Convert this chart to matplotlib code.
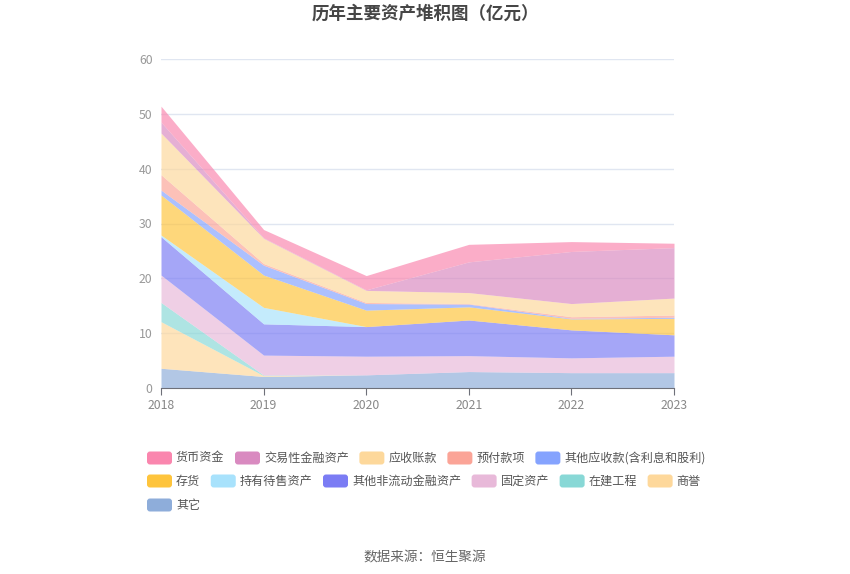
import matplotlib
matplotlib.use('Agg')
import matplotlib.pyplot as plt
import matplotlib.transforms as mtrans
from matplotlib.patches import FancyBboxPatch
import numpy as np

plt.rcParams['font.family'] = ['Noto Sans CJK SC', 'DejaVu Sans']

years = ['2018', '2019', '2020', '2021', '2022', '2023']

# legend order (top of stack first)
names = ['货币资金', '交易性金融资产', '应收账款', '预付款项', '其他应收款(含利息和股利)',
         '存货', '持有待售资产', '其他非流动金融资产', '固定资产', '在建工程', '商誉', '其它']
colors = ['#fa86ae', '#d98ac0', '#fdd89b', '#fba497', '#85a3fe',
          '#fec43c', '#a8e2fc', '#7b7cf4', '#e8b9d9', '#88d8d6', '#fed89b', '#8eadda']

huobi = [2.9, 1.5, 2.6, 3.2, 1.8, 0.8]
jiaoyi = [2.0, 0.1, 0.1, 5.6, 9.5, 9.2]
yingshou = [7.6, 4.6, 2.2, 2.0, 2.4, 3.1]
yufu = [2.8, 0.3, 0.2, 0.1, 0.3, 0.4]
qita_ys = [0.9, 1.8, 1.2, 0.5, 0.1, 0.2]
cunhuo = [7.3, 5.9, 3.0, 2.4, 2.0, 3.0]
chiyou = [0.3, 3.0, 0.0, 0.0, 0.0, 0.0]
feiliudong = [7.0, 5.7, 5.4, 6.5, 5.1, 3.9]
guding = [5.0, 3.65, 3.4, 2.9, 2.7, 3.0]
zaijian = [3.5, 0.1, 0.0, 0.0, 0.0, 0.0]
shangyu = [8.5, 0.15, 0.0, 0.0, 0.0, 0.0]
qita = [3.6, 2.1, 2.4, 3.0, 2.8, 2.8]

series = [huobi, jiaoyi, yingshou, yufu, qita_ys, cunhuo, chiyou,
          feiliudong, guding, zaijian, shangyu, qita]

W, H = 850, 574
fig = plt.figure(figsize=(W / 100, H / 100), dpi=100)
ax = fig.add_axes([161 / W, 1 - 388 / H, (674 - 161) / W, (388 - 59) / H])

x = np.arange(len(years))
base = np.zeros(len(years))
for name, col, vals in reversed(list(zip(names, colors, series))):
    top = base + np.array(vals)
    ax.fill_between(x, base, top, color=col, alpha=0.68, linewidth=0, zorder=2)
    base = top

ax.set_xlim(0, len(years) - 1)
ax.set_ylim(0, 60)
ax.set_yticks(range(0, 61, 10))
ax.set_xticks(x)
ax.set_xticklabels(years)
for yv in range(10, 61, 10):
    ax.axhline(yv, color='#e0e6f1', lw=1, zorder=1)
for s in ['top', 'right', 'left']:
    ax.spines[s].set_visible(False)
ax.spines['bottom'].set_color('#6e7079')
ax.spines['bottom'].set_zorder(3)
ax.tick_params(axis='y', length=0, pad=6, labelsize=8.8, labelcolor='#999999')
ax.tick_params(axis='x', length=5, color='#6e7079', pad=3, labelsize=8.8, labelcolor='#888888')

# title and source
fig.text(425 / W, 1 - 14 / H, '历年主要资产堆积图（亿元）', ha='center', va='center',
         fontsize=12.6, fontweight='bold', color='#464646')
fig.text(425 / W, 1 - 557 / H, '数据来源：恒生聚源', ha='center', va='center',
         fontsize=9.8, color='#666666')

# legend (flow layout in pixel coords)
px = mtrans.Affine2D().scale(1 / 100) + fig.dpi_scale_trans
renderer = fig.canvas.get_renderer()
rows = [[0, 1, 2, 3, 4], [5, 6, 7, 8, 9, 10], [11]]
row_y = [458, 481, 505]
for r, idxs in enumerate(rows):
    cx = 147
    yc = H - row_y[r]
    for i in idxs:
        patch = FancyBboxPatch((cx, yc - 6.5), 25, 13,
                               boxstyle='round,pad=0,rounding_size=3',
                               transform=px, facecolor=colors[i], edgecolor='none')
        fig.add_artist(patch)
        t = fig.text(cx + 29, yc, names[i], transform=px, ha='left', va='center',
                     fontsize=8.7, color='#555555')
        bb = t.get_window_extent(renderer)
        cx = cx + 29 + bb.width + 10.5

fig.savefig('out.png', dpi=100)
